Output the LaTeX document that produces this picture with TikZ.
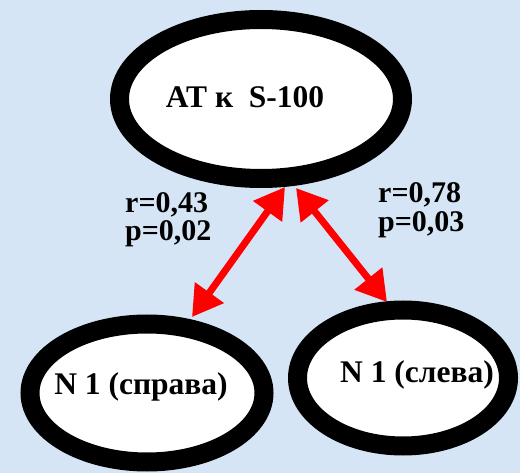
\documentclass[tikz,border=0pt]{standalone}
\usepackage{fontspec}
\setmainfont{Liberation Serif}[BoldFont={Liberation Serif Bold}]
\usetikzlibrary{shapes.geometric,arrows.meta,calc}
\definecolor{bgblue}{RGB}{214,229,245}
\definecolor{arrred}{RGB}{255,0,0}
\begin{document}
\begin{tikzpicture}[x=1pt,y=-1pt,
  oval/.style={ellipse,draw=black,fill=white,line width=19pt,inner sep=0pt},
  bigtxt/.style={font=\bfseries\fontsize{31.5}{32}\selectfont,inner sep=0pt},
  stattxt/.style={font=\bfseries\fontsize{30}{28}\selectfont,inner sep=0pt,anchor=base west},
  link/.style={arrred,line width=7pt,{Triangle[length=30pt,width=34pt]}-{Triangle[length=30pt,width=34pt]}}]
\fill[bgblue] (0,0) rectangle (520,473);
\useasboundingbox (0,0) rectangle (520,473);
\node[oval,minimum width=283pt,minimum height=159pt] (top) at (261,99) {};
\node[oval,minimum width=234pt,minimum height=138pt] (bl) at (147,393) {};
\node[oval,minimum width=211pt,minimum height=136pt] (br) at (403,378) {};
\node[bigtxt,anchor=base] (ttop) at (245,108) {AT к\ \ S-100};
\node[bigtxt,anchor=base] (tbl) at (141,395) {N 1 (справа)};
\node[bigtxt,anchor=base] (tbr) at (417,383) {N 1 (слева)};
\node[stattxt] (r1) at (125,213) {r=0,43};
\node[stattxt] (p1) at (125,241) {p=0,02};
\node[stattxt] (r2) at (378,203) {r=0,78};
\node[stattxt] (p2) at (378,232) {p=0,03};
\coordinate (a1) at ($(top.center)+(24,88)$);
\coordinate (a2) at ($(bl.center)+(45,-76)$);
\coordinate (b1) at ($(top.center)+(35,89)$);
\coordinate (b2) at ($(br.center)+(-16,-76)$);
\draw[link] (a1) -- (a2);
\draw[link] (b1) -- (b2);
\end{tikzpicture}
\end{document}
